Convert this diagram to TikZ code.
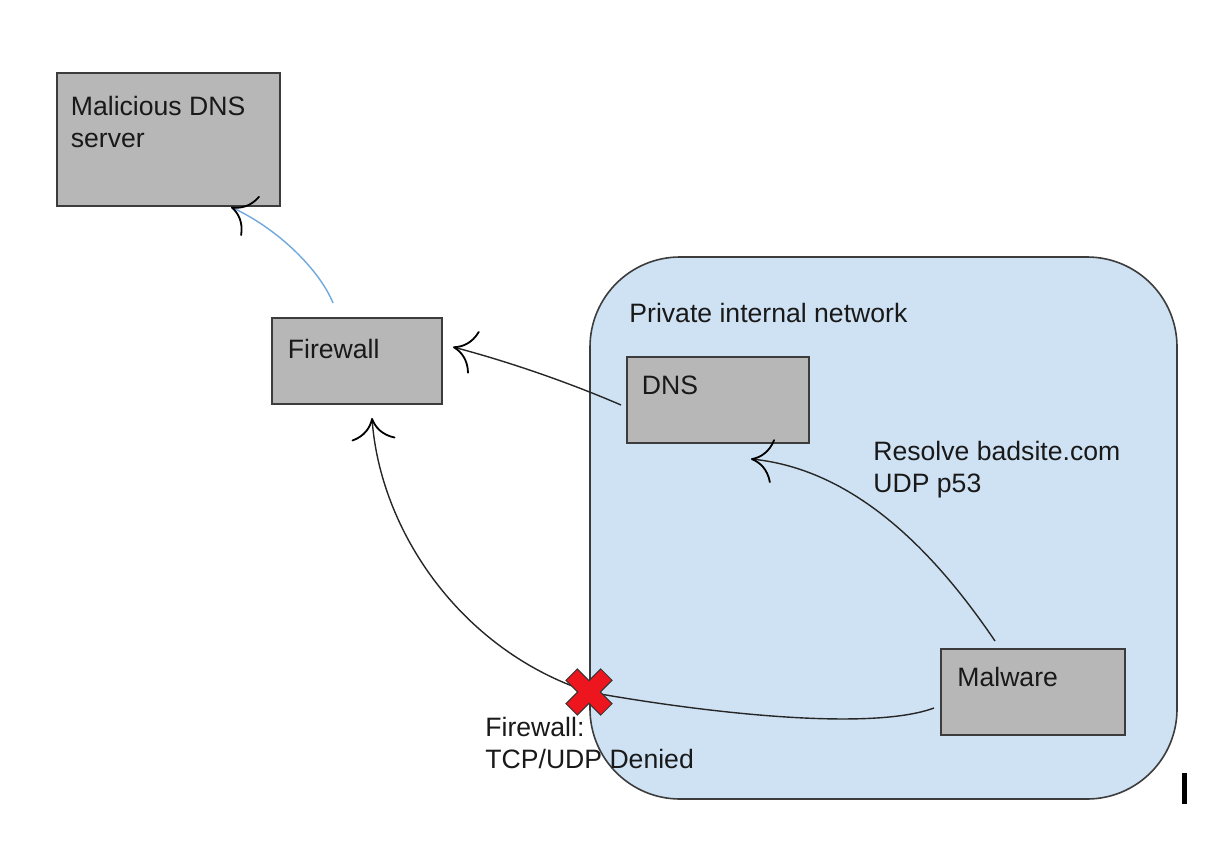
\documentclass[tikz,border=0pt]{standalone}
\usepackage{fontspec}
\setmainfont{Liberation Sans}
\usetikzlibrary{arrows.meta}
\usetikzlibrary{positioning}

\definecolor{boxgray}{RGB}{183,183,183}
\definecolor{edgegray}{RGB}{60,60,60}
\definecolor{netblue}{RGB}{207,226,243}
\definecolor{linkblue}{RGB}{111,168,220}
\definecolor{denyred}{RGB}{238,22,30}

\tikzset{
  server/.style={draw=edgegray, fill=boxgray, line width=1pt, inner sep=0pt, outer sep=0pt},
  boxtext/.style={anchor=base west, inner sep=0pt, align=left, text=black!90,
    font=\fontsize{13.3}{16}\selectfont},
  link/.style={draw=black!85, line width=0.7pt,
    -{Computer Modern Rightarrow[length=11pt,width=22pt,line width=0.9pt,color=black]}},
}

\begin{document}
\begin{tikzpicture}[x=0.5pt, y=-0.5pt]
\useasboundingbox (0,0) rectangle (1214,850);

% private network
\node[draw=edgegray, fill=netblue, line width=0.8pt, rounded corners=45pt,
  minimum width=293.5pt, minimum height=271pt, inner sep=0pt] (net) at (883.5,528) {};
\node[boxtext] (net-label) at (629,322) {Private internal network};

% servers
\node[server, minimum width=111.5pt, minimum height=66.5pt] (mdns) at (168.5,139.5) {};
\node[boxtext] (mdns-label) at (70.5,148) {Malicious DNS\\server};
\node[server, minimum width=85pt, minimum height=43pt] (fw) at (357,361) {};
\node[boxtext] (fw-label) at (287.5,358) {Firewall};
\node[server, minimum width=91pt, minimum height=43pt] (dns) at (718,400) {};
\node[boxtext] (dns-label) at (641.5,394) {DNS};
\node[server, minimum width=92pt, minimum height=43pt] (mal) at (1033,692) {};
\node[boxtext] (mal-label) at (957,686) {Malware};

% notes (base = last line)
\node[boxtext] (query) at (873,492) {Resolve badsite.com\\UDP p53};
\node[boxtext] (deny-label) at (485,768) {Firewall:\\TCP/UDP Denied};
\coordinate (deny) at (589,692);

% connectors
\draw[link, draw=linkblue] ([xshift=-12pt,yshift=7.5pt]fw.north)
  .. controls +(-13,-32) and +(49,23) .. ([xshift=31.25pt,yshift=-0.5pt]mdns.south);
\draw[link] ([xshift=-3pt,yshift=-2.5pt]dns.west)
  .. controls +(-51,-22) and +(57,15) .. ([xshift=5.5pt,yshift=7pt]fw.east);
\draw[link] ([xshift=-19pt,yshift=4pt]mal.north)
  .. controls +(-55,-81) and +(109,11) .. ([xshift=16.5pt,yshift=-8pt]dns.south);
\draw[link] ([xshift=-3.5pt,yshift=-8pt]mal.west)
  .. controls +(-65,24) and +(111,20) .. (deny)
  .. controls +(-129,-42) and +(8,112) .. ([xshift=7.5pt,yshift=-7pt]fw.south);

% blocked mark
\foreach \d in {1,-1}
  \draw[black!80, line width=8.6pt, shorten <=-0.5pt, shorten >=-0.5pt]
    ([shift={(-17,-17*\d)}]deny) -- ([shift={(17,17*\d)}]deny);
\foreach \d in {1,-1}
  \draw[denyred, line width=7.4pt] ([shift={(-17,-17*\d)}]deny) -- ([shift={(17,17*\d)}]deny);

% cursor
\fill[black] (1182,773) rectangle (1186.5,804);
\end{tikzpicture}
\end{document}
